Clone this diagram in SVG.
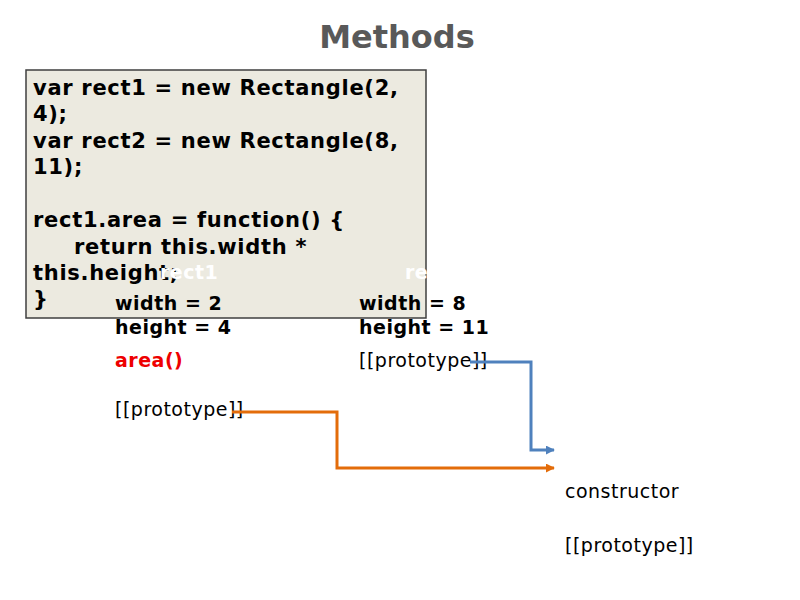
<svg xmlns="http://www.w3.org/2000/svg" width="800" height="600" viewBox="0 0 800 600">
<defs>
<style>
text{font-family:"DejaVu Sans",sans-serif;font-size:19px;letter-spacing:0.5px;fill:#000}
.b{font-weight:bold}
.code{font-weight:bold;font-size:21px;letter-spacing:0.7px}
</style>
<marker id="ab" viewBox="0 0 10 10" refX="9" refY="5" markerWidth="3" markerHeight="3" orient="auto"><path d="M0,0L10,5L0,10z" fill="#4f81bd"/></marker>
<marker id="ao" viewBox="0 0 10 10" refX="9" refY="5" markerWidth="3" markerHeight="3" orient="auto"><path d="M0,0L10,5L0,10z" fill="#e36c0a"/></marker>
</defs>
<rect width="800" height="600" fill="#fff"/>
<text x="397" y="48" text-anchor="middle" class="b" style="font-size:32px;letter-spacing:0;fill:#595959">Methods</text>
<g id="code">
<rect x="26" y="70" width="400" height="248" fill="#eceae0" stroke="#3f3f3f" stroke-width="1.5"/>
<text class="code" x="33" y="95">var rect1 = new Rectangle(2,</text>
<text class="code" x="33" y="121">4);</text>
<text class="code" x="33" y="148">var rect2 = new Rectangle(8,</text>
<text class="code" x="33" y="174">11);</text>
<text class="code" x="33" y="227">rect1.area = function() {</text>
<text class="code" x="74" y="254">return this.width *</text>
<text class="code" x="33" y="280">this.height;</text>
<text class="code" x="33" y="306">}</text>
</g>
<g id="rect1">
<text x="160" y="279" class="b" style="fill:#fff">rect1</text>
<text x="115" y="310" class="b">width = 2</text>
<text x="115" y="334" class="b">height = 4</text>
<text x="115" y="367" class="b" style="fill:#e00">area()</text>
<text x="115" y="416">[[prototype]]</text>
</g>
<g id="rect2">
<text x="405" y="279" class="b" style="fill:#fff">rect2</text>
<text x="359" y="310" class="b">width = 8</text>
<text x="359" y="334" class="b">height = 11</text>
<text x="359" y="367">[[prototype]]</text>
</g>
<g id="proto">
<text x="565" y="498">constructor</text>
<text x="565" y="552">[[prototype]]</text>
</g>
<g id="connectors" fill="none" stroke-width="3">
<path d="M470,362H531V450H554" stroke="#4f81bd" marker-end="url(#ab)"/>
<path d="M232,412H337V468H554" stroke="#e36c0a" marker-end="url(#ao)"/>
</g>
</svg>
